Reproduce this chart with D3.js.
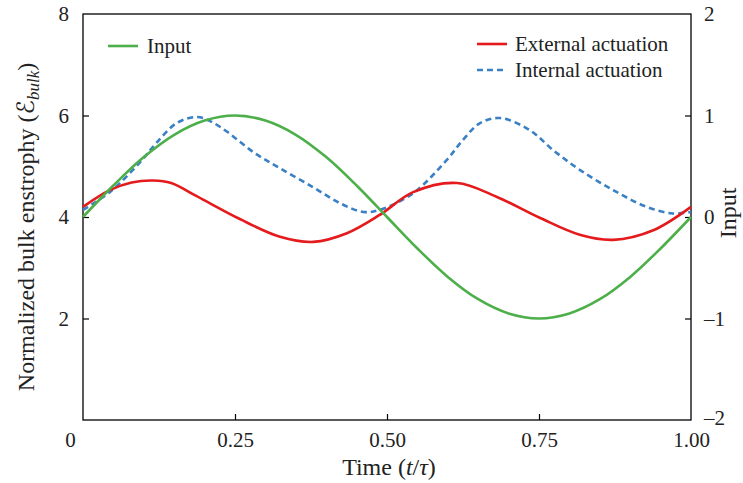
<!DOCTYPE html>
<html>
<head>
<meta charset="utf-8">
<script src="https://cdn.jsdelivr.net/npm/d3@7"></script>
<style>
  html, body { margin: 0; padding: 0; background: #fff; }
  svg { display: block; }
  text { font-family: "Liberation Serif", "DejaVu Serif", serif; fill: #222; }
</style>
</head>
<body>
<svg id="chart" width="743" height="483"></svg>
<script>
// ---- data ----
const inputT = [0, 0.05, 0.10, 0.15, 0.20, 0.25, 0.30, 0.35, 0.40, 0.45, 0.50, 0.55, 0.60, 0.65, 0.70, 0.75, 0.80, 0.85, 0.90, 0.95, 1.00];
const inputV = [0, 0.31, 0.59, 0.81, 0.95, 1.0, 0.95, 0.81, 0.59, 0.31, 0, -0.31, -0.59, -0.81, -0.95, -1.0, -0.95, -0.81, -0.59, -0.31, 0];

const externalT = [0, 0.044, 0.08, 0.115, 0.145, 0.187, 0.258, 0.324, 0.379, 0.434, 0.488, 0.543, 0.615, 0.68, 0.752, 0.817, 0.872, 0.938, 1.0];
const externalV = [4.20, 4.53, 4.68, 4.72, 4.67, 4.41, 3.96, 3.61, 3.51, 3.68, 4.04, 4.49, 4.67, 4.40, 3.98, 3.65, 3.55, 3.74, 4.20];

const internalT = [0, 0.044, 0.094, 0.12, 0.154, 0.187, 0.209, 0.237, 0.28, 0.324, 0.378, 0.423, 0.461, 0.488, 0.543, 0.598, 0.625, 0.653, 0.686, 0.735, 0.773, 0.817, 0.872, 0.927, 0.97, 1.0];
const internalV = [4.14, 4.49, 5.08, 5.45, 5.85, 5.97, 5.89, 5.68, 5.28, 4.96, 4.59, 4.27, 4.10, 4.14, 4.47, 5.12, 5.52, 5.85, 5.95, 5.71, 5.32, 4.93, 4.53, 4.20, 4.07, 4.10];

const xTicks = [0, 0.25, 0.5, 0.75, 1.0];
const xTickLabels = ["0", "0.25", "0.50", "0.75", "1.00"];
const yLeftTicks = [2, 4, 6, 8];
const yRightTicks = [-2, -1, 0, 1, 2];
const legendItems = [
  { name: "Input", color: "#4daf4a", dash: null },
  { name: "External actuation", color: "#e41a1c", dash: null },
  { name: "Internal actuation", color: "#3a80c4", dash: "6,4" }
];

// ---- layout ----
const svg = d3.select("#chart");
const L = 83, R = 691, T = 14, B = 420;
const x = d3.scaleLinear().domain([0, 1]).range([L, R]);
const yL = d3.scaleLinear().domain([0, 8]).range([B, T]);
const yR = d3.scaleLinear().domain([-2, 2]).range([B, T]);

// frame
svg.append("rect").attr("x", L).attr("y", T).attr("width", R - L).attr("height", B - T)
  .attr("fill", "none").attr("stroke", "#000").attr("stroke-width", 1.3);

// axes (inward ticks)
const fs = 21;
const gx = svg.append("g").attr("transform", `translate(0,${B})`)
  .call(d3.axisBottom(x).tickValues(xTicks).tickSize(-6).tickPadding(12)
    .tickFormat((d, i) => xTickLabels[i]));
const gl = svg.append("g").attr("transform", `translate(${L},0)`)
  .call(d3.axisLeft(yL).tickValues(yLeftTicks).tickSize(-6).tickPadding(14));
const gr = svg.append("g").attr("transform", `translate(${R},0)`)
  .call(d3.axisRight(yR).tickValues(yRightTicks).tickSize(-6).tickPadding(13)
    .tickFormat(d => d < 0 ? "\u2013" + Math.abs(d) : String(d)));

[gx, gl, gr].forEach(g => {
  g.select(".domain").remove();
  g.selectAll(".tick line").attr("stroke", "#000").attr("stroke-width", 1.2);
  g.selectAll(".tick text").style("font-family", '"Liberation Serif", serif')
    .style("font-size", fs + "px").attr("fill", "#222");
});
// hide ticks at frame edges
gx.selectAll(".tick").filter(d => d === 0 || d === 1).select("line").remove();
gx.selectAll(".tick").filter(d => d === 0).select("text").attr("dx", -13);
gl.selectAll(".tick").filter(d => d === 8).select("line").remove();
gr.selectAll(".tick").filter(d => d === 2 || d === -2).select("line").remove();
gr.selectAll(".tick").filter(d => d === -2).select("text").attr("dy", "0.2em");

// lines
const lineL = d3.line().x(d => x(d[0])).y(d => yL(d[1])).curve(d3.curveCatmullRom.alpha(0.5));
const lineR = d3.line().x(d => x(d[0])).y(d => yR(d[1])).curve(d3.curveCatmullRom.alpha(0.5));

svg.append("path").datum(internalT.map((t, i) => [t, internalV[i]]))
  .attr("d", lineL).attr("fill", "none").attr("stroke", legendItems[2].color)
  .attr("stroke-width", 2.6).attr("stroke-dasharray", legendItems[2].dash);
svg.append("path").datum(externalT.map((t, i) => [t, externalV[i]]))
  .attr("d", lineL).attr("fill", "none").attr("stroke", legendItems[1].color)
  .attr("stroke-width", 2.6);
svg.append("path").datum(inputT.map((t, i) => [t, inputV[i]]))
  .attr("d", lineR).attr("fill", "none").attr("stroke", legendItems[0].color)
  .attr("stroke-width", 2.6);

// axis titles
svg.append("text").attr("x", 389).attr("y", 475).attr("text-anchor", "middle")
  .style("font-size", "24px")
  .call(t => {
    t.append("tspan").text("Time (");
    t.append("tspan").attr("font-style", "italic").text("t");
    t.append("tspan").text("/");
    t.append("tspan").attr("font-style", "italic").text("\u03C4");
    t.append("tspan").text(")");
  });

svg.append("text").attr("transform", "translate(34,227) rotate(-90)").attr("text-anchor", "middle")
  .style("font-size", "24px")
  .call(t => {
    t.append("tspan").text("Normalized bulk enstrophy (");
    t.append("tspan").style("font-family", '"DejaVu Sans", sans-serif').style("font-size", "24px").text("\u2130");
    t.append("tspan").attr("font-style", "italic").attr("dy", 5).style("font-size", "17px").text("bulk");
    t.append("tspan").attr("dy", -5).text(")");
  });

svg.append("text").attr("transform", "translate(736,213) rotate(-90)").attr("text-anchor", "middle")
  .style("font-size", "24px").text("Input");

// legend
const legPos = [
  { x1: 108, y: 46, tx: 147 },
  { x1: 477, y: 44, tx: 515 },
  { x1: 477, y: 70, tx: 515 }
];
legendItems.forEach((it, i) => {
  const p = legPos[i];
  svg.append("line").attr("x1", p.x1).attr("x2", p.x1 + 30).attr("y1", p.y).attr("y2", p.y)
    .attr("stroke", it.color).attr("stroke-width", 2.6).attr("stroke-dasharray", it.dash);
  svg.append("text").attr("x", p.tx).attr("y", p.y + 7).style("font-size", "21px").text(it.name);
});
</script>
</body>
</html>
